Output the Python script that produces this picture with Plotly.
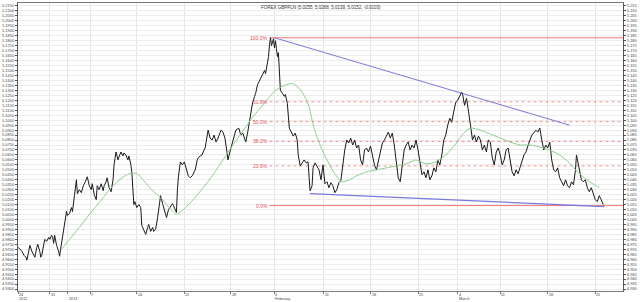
import plotly.graph_objects as go

# ---- price (bar index, close) ----
bar = [0, 2, 4, 6, 8, 9, 11, 12, 14, 16,
       17, 19, 20, 22, 23, 24, 26, 27, 29, 31,
       32, 34, 35, 36, 37, 39, 41, 42, 43, 45,
       47, 49, 50, 52, 54, 55, 57, 59, 60, 62,
       64, 66, 68, 70, 72, 74, 75, 77, 79, 80,
       82, 84, 86, 87, 89, 90, 92, 94, 96, 97,
       99, 101, 102, 104, 106, 107, 109, 111, 112, 114,
       115, 117, 118, 120, 122, 124, 125, 127, 129, 131,
       132, 134, 136, 137, 139, 141, 143, 144, 146, 147,
       149, 150, 152, 154, 156, 157, 159, 160, 161, 162,
       164, 166, 168, 169, 171, 172, 174, 176, 178, 179,
       181, 182, 184, 186, 187, 189, 190, 192, 194, 196,
       198, 200, 202, 204, 205, 207, 209, 211, 212, 214,
       215, 217, 219, 220, 223, 225, 227, 230, 232, 234,
       236, 237, 239, 240, 242, 244, 245, 247, 249, 250,
       252, 253, 254, 255, 256, 257, 258, 259, 260, 261,
       262, 263, 264, 265, 267, 269, 270, 272, 274, 276,
       278, 280, 282, 283, 285, 287, 289, 291, 293, 294,
       295, 297, 298, 300, 302, 304, 306, 308, 310, 312,
       314, 316, 318, 320, 322, 324, 326, 328, 330, 332,
       334, 336, 338, 340, 342, 344, 346, 348, 350, 352,
       354, 356, 358, 360, 362, 364, 366, 368, 370, 372,
       374, 376, 378, 380, 382, 384, 386, 388, 390, 392,
       394, 396, 398, 400, 402, 404, 406, 408, 410, 412,
       414, 416, 418, 420, 422, 424, 426, 428, 430, 432,
       434, 436, 438, 440, 442, 444, 446, 448, 449, 451,
       453, 455, 457, 459, 461, 463, 465, 467, 469, 471,
       473, 475, 477, 479, 481, 483, 485, 487, 489, 491,
       493, 495, 497, 499, 501, 503, 505, 507, 509, 511,
       513, 515, 517, 519, 521, 523, 525, 527, 529, 531,
       533, 535, 537, 539, 541, 543, 545, 547, 549, 551,
       553, 555, 557, 559, 561, 563, 564, 565, 567, 569,
       571, 573, 575, 577, 579, 581, 583, 585, 587, 589,
       591]
close = [4.972, 4.970, 4.968, 4.964, 4.962, 4.959, 4.968, 4.974, 4.968, 4.964,
         4.962, 4.972, 4.975, 4.968, 4.962, 4.964, 4.974, 4.980, 4.978, 4.982,
         4.980, 4.984, 4.982, 4.976, 4.984, 4.974, 4.968, 4.963, 4.970, 4.982,
         4.992, 5.008, 5.004, 5.006, 5.012, 5.008, 5.024, 5.040, 5.026, 5.030,
         5.027, 5.034, 5.038, 5.043, 5.034, 5.030, 5.036, 5.025, 5.020, 5.034,
         5.030, 5.036, 5.029, 5.034, 5.038, 5.042, 5.032, 5.028, 5.040, 5.055,
         5.068, 5.060, 5.063, 5.068, 5.064, 5.067, 5.065, 5.060, 5.064, 5.055,
         5.047, 5.015, 5.018, 5.012, 5.015, 5.012, 4.994, 4.990, 4.985, 4.992,
         4.995, 4.988, 4.992, 4.988, 4.990, 5.002, 5.020, 5.024, 5.016, 5.012,
         5.006, 5.002, 5.010, 5.013, 5.016, 5.014, 5.008, 5.007, 5.030, 5.043,
         5.058, 5.055, 5.058, 5.054, 5.048, 5.044, 5.042, 5.044, 5.048, 5.050,
         5.060, 5.062, 5.064, 5.065, 5.068, 5.072, 5.078, 5.090, 5.082, 5.080,
         5.085, 5.078, 5.082, 5.088, 5.090, 5.088, 5.082, 5.068, 5.060, 5.068,
         5.072, 5.080, 5.088, 5.090, 5.092, 5.085, 5.087, 5.078, 5.088, 5.100,
         5.112, 5.118, 5.124, 5.127, 5.136, 5.140, 5.143, 5.147, 5.150, 5.147,
         5.157, 5.164, 5.176, 5.183, 5.175, 5.180, 5.182, 5.173, 5.180, 5.172,
         5.164, 5.168, 5.148, 5.130, 5.127, 5.124, 5.126, 5.117, 5.092, 5.087,
         5.084, 5.087, 5.080, 5.065, 5.054, 5.057, 5.060, 5.057, 5.058, 5.042,
         5.029, 5.034, 5.052, 5.057, 5.054, 5.050, 5.040, 5.055, 5.036, 5.038,
         5.032, 5.037, 5.034, 5.027, 5.030, 5.037, 5.039, 5.055, 5.070, 5.080,
         5.077, 5.082, 5.075, 5.080, 5.072, 5.075, 5.060, 5.055, 5.070, 5.072,
         5.068, 5.074, 5.065, 5.055, 5.050, 5.060, 5.070, 5.077, 5.080, 5.085,
         5.088, 5.082, 5.087, 5.075, 5.055, 5.042, 5.038, 5.055, 5.070, 5.075,
         5.078, 5.070, 5.075, 5.072, 5.080, 5.070, 5.055, 5.045, 5.048, 5.042,
         5.050, 5.040, 5.044, 5.052, 5.048, 5.060, 5.055, 5.065, 5.080, 5.085,
         5.095, 5.102, 5.098, 5.110, 5.118, 5.120, 5.124, 5.128, 5.126, 5.115,
         5.122, 5.110, 5.095, 5.080, 5.085, 5.078, 5.084, 5.080, 5.070, 5.075,
         5.068, 5.080, 5.078, 5.062, 5.055, 5.068, 5.072, 5.065, 5.055, 5.060,
         5.070, 5.072, 5.060, 5.048, 5.044, 5.050, 5.046, 5.052, 5.060, 5.065,
         5.068, 5.075, 5.080, 5.085, 5.087, 5.090, 5.088, 5.092, 5.080, 5.070,
         5.075, 5.072, 5.078, 5.060, 5.050, 5.048, 5.052, 5.042, 5.038, 5.034,
         5.040, 5.034, 5.032, 5.038, 5.035, 5.050, 5.065, 5.060, 5.048, 5.040,
         5.038, 5.040, 5.032, 5.028, 5.032, 5.025, 5.020, 5.018, 5.024, 5.020,
         5.015]

# ---- moving average ----
ma_bar = [44, 52, 62, 72, 82, 90, 97, 105, 112, 117,
          122, 127, 135, 144, 152, 160, 167, 177, 187, 197,
          207, 217, 227, 237, 247, 260, 269, 277, 284, 290,
          294, 299, 305, 312, 320, 327, 335, 342, 352, 362,
          372, 382, 392, 402, 412, 422, 432, 442, 450, 457,
          467, 477, 487, 497, 507, 517, 527, 537, 547, 557,
          565, 572, 579, 587]
ma = [4.970, 4.980, 4.992, 5.005, 5.017, 5.027, 5.035, 5.042, 5.046, 5.047,
      5.045, 5.039, 5.030, 5.022, 5.013, 5.005, 5.010, 5.020, 5.032, 5.045,
      5.060, 5.075, 5.089, 5.103, 5.115, 5.130, 5.135, 5.137, 5.132, 5.123,
      5.113, 5.092, 5.075, 5.060, 5.046, 5.038, 5.040, 5.044, 5.048, 5.050,
      5.052, 5.054, 5.056, 5.060, 5.056, 5.058, 5.065, 5.076, 5.087, 5.092,
      5.090, 5.086, 5.082, 5.078, 5.075, 5.075, 5.073, 5.070, 5.065, 5.057,
      5.048, 5.042, 5.037, 5.032]

# ---- trend lines ----
upper_bar = [259, 557]
upper_val = [5.183, 5.095]
lower_bar = [295, 592]
lower_val = [5.026, 5.013]

# ---- fibonacci ----
fib_high = 5.183
fib_low = 5.014
fib_pcts = [0.0, 23.6, 38.2, 50.0, 61.8, 100.0]
fib_start_bar = 254

# ---- axis ----
x_max = 611
y_min, y_max = 4.928, 5.218
tick_bars = [0, 32, 50, 73, 120, 168, 215, 259, 309, 356, 404, 444, 487, 535, 583]
tick_days = ["24", "31", "", "7", "14", "21", "28", "4", "11", "18", "25", "4", "11", "18", "25"]
tick_months = ["2012", "", "2013", "", "", "", "", "February", "", "", "", "March", "", "", ""]

title_text = "FOREX GBPPLN (5.0255, 5.0268, 5.0139, 5.0152, -0.0103)"

FONT = "Arial, Liberation Sans"
fig = go.Figure()

# fib lines
for p in fib_pcts:
    lvl = fib_low + (fib_high - fib_low) * p / 100.0
    solid = p in (0.0, 100.0)
    fig.add_trace(go.Scatter(
        x=[fib_start_bar, x_max], y=[lvl, lvl], mode="lines",
        line=dict(color="#f07878", width=1 if solid else 0.8, dash=None if solid else "dot"),
        hoverinfo="skip", showlegend=False))
    fig.add_annotation(x=fib_start_bar - 1, y=lvl, xref="x", yref="y",
                       text="%.1f%%" % p, showarrow=False, xanchor="right",
                       yanchor="middle", borderpad=0,
                       font=dict(size=5, color="#e05050", family=FONT))

# trend lines
fig.add_trace(go.Scatter(x=upper_bar, y=upper_val, mode="lines",
                         line=dict(color="#7878e0", width=1), showlegend=False))
fig.add_trace(go.Scatter(x=lower_bar, y=lower_val, mode="lines",
                         line=dict(color="#7878e0", width=1.3), showlegend=False))

# moving average (on right axis which matches left)
fig.add_trace(go.Scatter(x=ma_bar, y=ma, mode="lines", yaxis="y2",
                         line=dict(color="#8ccf8c", width=1, shape="spline", smoothing=0.6),
                         showlegend=False))
# price
fig.add_trace(go.Scatter(x=bar, y=close, mode="lines",
                         line=dict(color="#1a1a1a", width=1), showlegend=False))

# x labels (days and months), left aligned at ticks
for b, d, m in zip(tick_bars, tick_days, tick_months):
    if d:
        fig.add_annotation(x=b, y=0, xref="x", yref="paper", text=d, showarrow=False,
                           xanchor="left", yanchor="top", yshift=-1, borderpad=0,
                           font=dict(size=3.8, color="#444", family=FONT))
    if m:
        fig.add_annotation(x=b, y=0, xref="x", yref="paper", text=m, showarrow=False,
                           xanchor="left", yanchor="top", yshift=-5, borderpad=0,
                           font=dict(size=3.8, color="#444", family=FONT))

fig.add_annotation(x=0.5, y=1, xref="paper", yref="paper", text=title_text,
                   showarrow=False, xanchor="center", yanchor="top", yshift=-1,
                   borderpad=0, font=dict(size=4.5, color="#333", family=FONT))

axis_font = dict(size=4, color="#444", family=FONT)
fig.update_layout(
    width=640, height=302,
    margin=dict(l=13, r=16, t=2, b=11),
    paper_bgcolor="white", plot_bgcolor="white",
    xaxis=dict(range=[0, x_max], tickvals=tick_bars, showticklabels=False,
               showgrid=True, gridcolor="#e4e4e4", gridwidth=1,
               showline=True, linecolor="#777", linewidth=1, mirror=True,
               ticks="outside", ticklen=2, tickcolor="#777", zeroline=False),
    yaxis=dict(range=[y_min, y_max], dtick=0.005, tick0=4.93, tickformat=".4f",
               showgrid=True, gridcolor="#ececec", gridwidth=1,
               showline=True, linecolor="#555", linewidth=1,
               ticks="outside", ticklen=2, tickcolor="#555",
               tickfont=axis_font, zeroline=False),
    yaxis2=dict(overlaying="y", side="right", matches="y", dtick=0.005, tick0=4.93,
                tickformat=".3f", showgrid=False, showline=True, linecolor="#555",
                linewidth=1, ticks="outside", ticklen=2, tickcolor="#555",
                tickfont=axis_font, zeroline=False),
)

fig.write_html("out.html")
